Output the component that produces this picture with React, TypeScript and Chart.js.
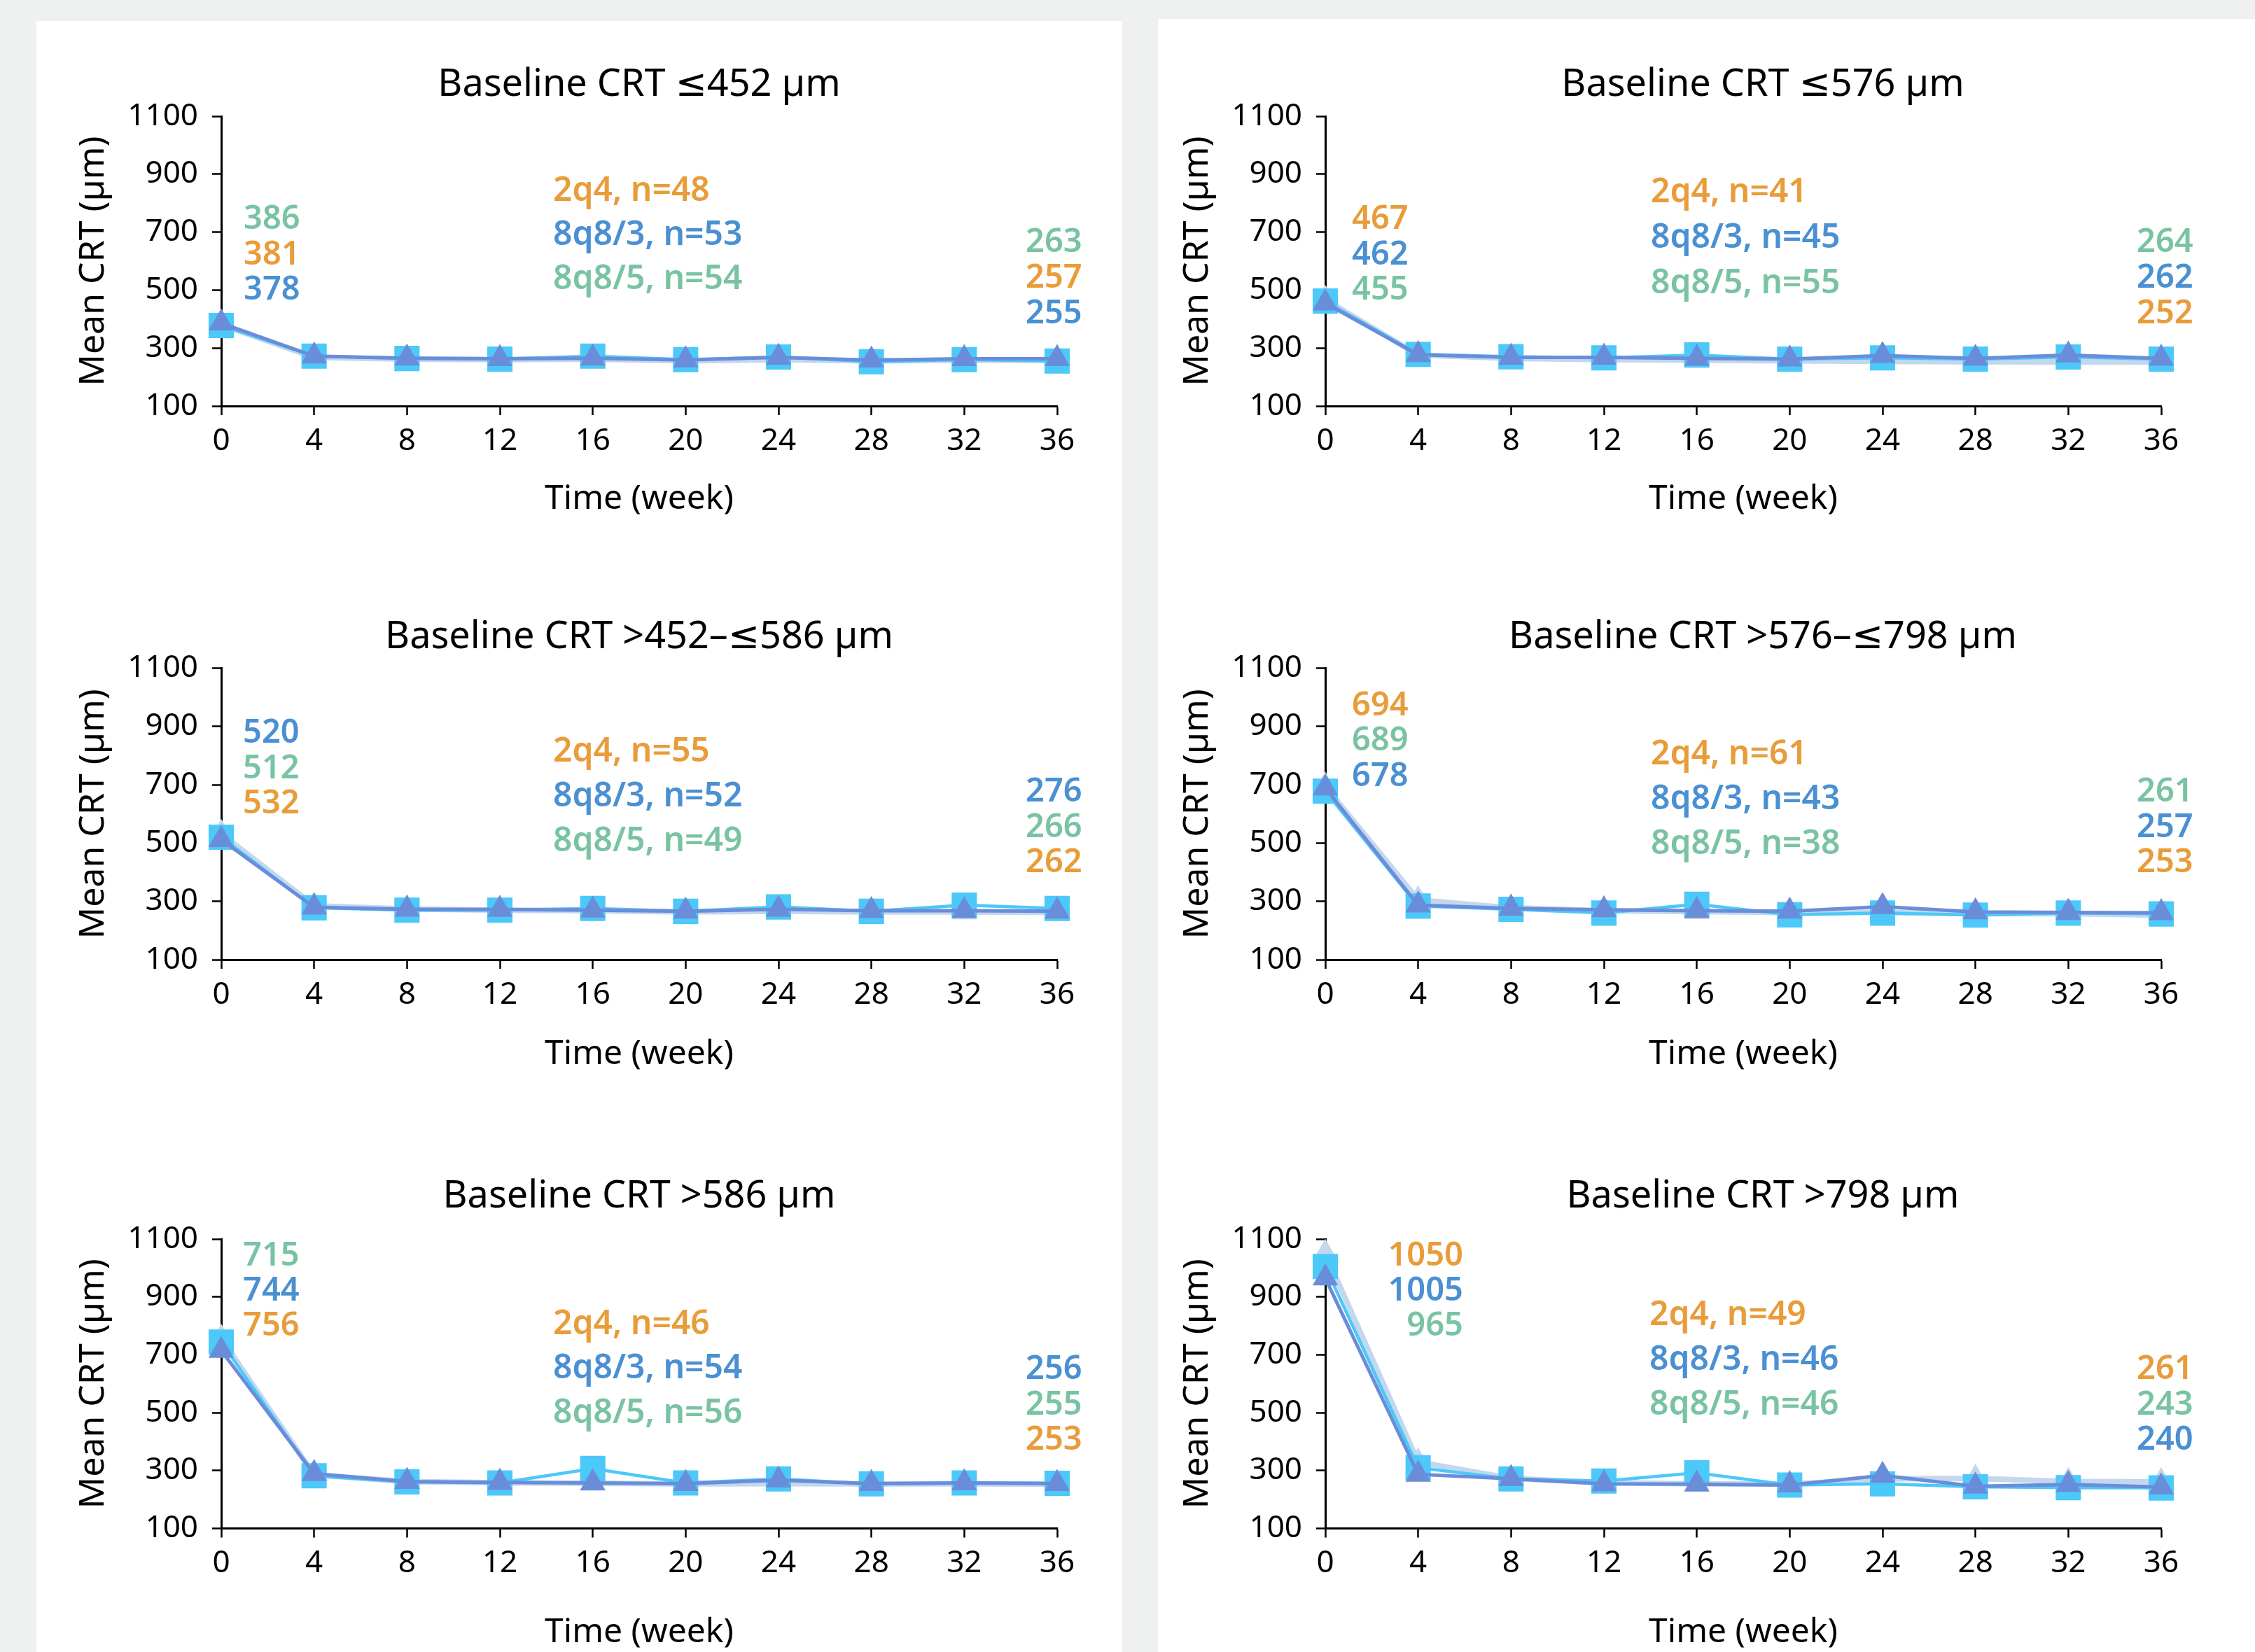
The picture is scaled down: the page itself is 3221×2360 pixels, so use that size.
import React, { useEffect, useRef } from "react";
import { Chart, registerables } from "chart.js";

Chart.register(...registerables);

// ---------- data ----------
const weeks = [0, 4, 8, 12, 16, 20, 24, 28, 32, 36];
const xTickValues = [0, 4, 8, 12, 16, 20, 24, 28, 32, 36];
const yTickValues = [100, 300, 500, 700, 900, 1100];

const panelTitles = [
  "Baseline CRT ≤452 µm",
  "Baseline CRT ≤576 µm",
  "Baseline CRT >452–≤586 µm",
  "Baseline CRT >576–≤798 µm",
  "Baseline CRT >586 µm",
  "Baseline CRT >798 µm",
];

const seriesNames = ["2q4", "8q8/3", "8q8/5"];
const n2q4 = [48, 41, 55, 61, 46, 49];
const n8q8_3 = [53, 45, 52, 43, 54, 46];
const n8q8_5 = [54, 55, 49, 38, 56, 46];

// panel 1: Baseline CRT ≤452
const p1_2q4 = [381, 268, 262, 260, 262, 256, 260, 256, 258, 257];
const p1_8q8_3 = [378, 272, 264, 262, 272, 260, 269, 253, 260, 255];
const p1_8q8_5 = [386, 272, 265, 263, 265, 259, 268, 258, 263, 263];
// panel 2: Baseline CRT ≤576
const p2_2q4 = [467, 276, 264, 260, 258, 256, 254, 253, 252, 252];
const p2_8q8_3 = [462, 278, 270, 266, 276, 262, 266, 262, 269, 262];
const p2_8q8_5 = [455, 277, 268, 268, 264, 262, 274, 264, 276, 264];
// panel 3: Baseline CRT >452–≤586
const p3_2q4 = [532, 285, 274, 270, 268, 264, 266, 264, 264, 262];
const p3_8q8_3 = [520, 278, 270, 270, 276, 266, 281, 266, 287, 276];
const p3_8q8_5 = [512, 280, 273, 272, 270, 266, 273, 268, 268, 266];
// panel 4: Baseline CRT >576–≤798
const p4_2q4 = [694, 305, 278, 268, 265, 262, 262, 258, 258, 253];
const p4_8q8_3 = [678, 284, 273, 260, 290, 254, 260, 253, 260, 257];
const p4_8q8_5 = [689, 287, 276, 271, 268, 266, 282, 264, 262, 261];
// panel 5: Baseline CRT >586
const p5_2q4 = [756, 285, 262, 258, 256, 254, 255, 254, 254, 253];
const p5_8q8_3 = [744, 282, 261, 257, 307, 257, 271, 254, 257, 256];
const p5_8q8_5 = [715, 289, 262, 259, 257, 255, 267, 255, 257, 255];
// panel 6: Baseline CRT >798
const p6_2q4 = [1050, 329, 273, 258, 254, 253, 271, 273, 262, 261];
const p6_8q8_3 = [1005, 310, 271, 264, 292, 250, 254, 244, 241, 240];
const p6_8q8_5 = [965, 287, 272, 254, 253, 250, 283, 246, 252, 243];

const panelSeries = [
  [p1_2q4, p1_8q8_3, p1_8q8_5],
  [p2_2q4, p2_8q8_3, p2_8q8_5],
  [p3_2q4, p3_8q8_3, p3_8q8_5],
  [p4_2q4, p4_8q8_3, p4_8q8_5],
  [p5_2q4, p5_8q8_3, p5_8q8_5],
  [p6_2q4, p6_8q8_3, p6_8q8_5],
];

// order (top to bottom) of the value labels: series index 0=2q4, 1=8q8/3, 2=8q8/5
const baselineLabelOrder = [
  [2, 0, 1],
  [0, 1, 2],
  [1, 2, 0],
  [0, 2, 1],
  [2, 1, 0],
  [0, 1, 2],
];
const week36LabelOrder = [
  [2, 0, 1],
  [2, 1, 0],
  [1, 2, 0],
  [2, 1, 0],
  [1, 2, 0],
  [0, 2, 1],
];

// ---------- styles / layout ----------
const FONT = "'Noto Sans', 'DejaVu Sans', sans-serif";
const PAGE_BG = "#eff1f0";
const labelColors = ["#e89c3a", "#4a90d2", "#79c3a3"]; // 2q4, 8q8/3, 8q8/5
const lineStyles = [
  { color: "#c3d7ee", width: 8, point: "triangle", radius: 21 }, // 2q4
  { color: "#4cc8f9", width: 4.5, point: "rect", radius: 25.5 }, // 8q8/3
  { color: "#6a8dda", width: 5, point: "triangle", radius: 21 }, // 8q8/5
];

// spacer = width of an invisible right axis, so the title centres on the wanted x
const cols = [
  { left: 52, width: 1722, spacer: 264 },
  { left: 1629, width: 1778, spacer: 320 },
];
const rows = [
  { top: 89, height: 653, titlePadBottom: 12.2, xScaleHeight: 162 },
  { top: 878, height: 657, titlePadBottom: 11.7, xScaleHeight: 164 },
  { top: 1677, height: 684, titlePadBottom: 28.2, xScaleHeight: 177.5 },
];

// text block placement relative to chart area (left, top)
const labelLayout = [
  { n: [474, 107, 63], b: [32, 148, 50.5, "left"], e: [1149, 181, 50.7] },
  { n: [465, 109, 65], b: [38, 148, 50.5, "left"], e: [1159, 181, 50.7] },
  { n: [474, 119.5, 64], b: [31, 93.5, 50.5, "left"], e: [1149, 177.5, 50.5] },
  { n: [465, 123.5, 64], b: [38, 54, 50.5, "left"], e: [1159, 177.5, 50.5] },
  { n: [474, 122, 63.5], b: [31, 25, 50, "left"], e: [1149, 187, 50.5] },
  { n: [463, 109, 64], b: [197, 25, 50, "right"], e: [1159, 187, 50.5] },
];

const labelPlugin = {
  id: "crtLabels",
  afterDatasetsDraw(chart: any, _args: any, opts: any) {
    const { ctx, chartArea } = chart;
    ctx.save();
    ctx.textBaseline = "middle";
    for (const g of opts.groups || []) {
      ctx.font = `${g.weight} ${g.size}px ${FONT}`;
      ctx.textAlign = g.align;
      g.lines.forEach((ln: any, i: number) => {
        ctx.fillStyle = ln.color;
        ctx.fillText(ln.text, chartArea.left + g.dx, chartArea.top + g.dy + i * g.step);
      });
    }
    ctx.restore();
  },
};

function buildConfig(idx: number): any {
  const col = cols[idx % 2];
  const row = rows[Math.floor(idx / 2)];
  const series = panelSeries[idx];
  const lay = labelLayout[idx];
  const ns = [n2q4[idx], n8q8_3[idx], n8q8_5[idx]];

  // draw order: dataset 0 drawn on top
  const drawOrder = [2, 1, 0];
  const datasets = drawOrder.map((s) => ({
    label: seriesNames[s],
    data: weeks.map((w, i) => ({ x: w, y: series[s][i] })),
    xAxisID: "x",
    yAxisID: "y",
    borderColor: lineStyles[s].color,
    backgroundColor: lineStyles[s].color,
    borderWidth: lineStyles[s].width,
    pointStyle: lineStyles[s].point,
    pointRadius: lineStyles[s].radius,
    pointHoverRadius: lineStyles[s].radius,
    pointBackgroundColor: lineStyles[s].color,
    pointBorderWidth: 0,
    tension: 0,
    clip: false,
  }));

  const groups = [
    {
      dx: lay.n[0], dy: lay.n[1], step: lay.n[2], align: "left", size: 48, weight: 600,
      lines: [0, 1, 2].map((s) => ({ text: `${seriesNames[s]}, n=${ns[s]}`, color: labelColors[s] })),
    },
    {
      dx: lay.b[0], dy: lay.b[1], step: lay.b[2], align: lay.b[3], size: 47, weight: 600,
      lines: baselineLabelOrder[idx].map((s) => ({ text: String(series[s][0]), color: labelColors[s] })),
    },
    {
      dx: lay.e[0], dy: lay.e[1], step: lay.e[2], align: "left", size: 47, weight: 600,
      lines: week36LabelOrder[idx].map((s) => ({ text: String(series[s][weeks.length - 1]), color: labelColors[s] })),
    },
  ];

  const grid = {
    display: true,
    drawOnChartArea: false,
    drawTicks: true,
    tickLength: 13,
    tickWidth: 2.5,
    tickColor: "#000",
    color: "#000",
  };
  const border = { display: true, color: "#000", width: 3 };

  return {
    type: "line",
    data: { datasets },
    plugins: [labelPlugin],
    options: {
      responsive: false,
      animation: false,
      devicePixelRatio: 1,
      events: [],
      layout: { padding: 0 },
      plugins: {
        legend: { display: false },
        tooltip: { enabled: false },
        title: {
          display: true,
          text: panelTitles[idx],
          color: "#000",
          font: { family: FONT, size: 54, weight: "normal", lineHeight: 1.2 },
          padding: { top: 0, bottom: row.titlePadBottom },
        },
        crtLabels: { groups },
      },
      scales: {
        x: {
          type: "linear",
          position: "bottom",
          min: 0,
          max: 36,
          afterBuildTicks: (scale: any) => {
            scale.ticks = xTickValues.map((v) => ({ value: v }));
          },
          afterFit: (scale: any) => {
            scale.height = row.xScaleHeight;
          },
          ticks: {
            color: "#000",
            font: { family: FONT, size: 44, lineHeight: 1.2 },
            padding: 11,
            maxRotation: 0,
            autoSkip: false,
            callback: (v: any) => String(v),
          },
          grid,
          border,
          title: {
            display: true,
            text: "Time (week)",
            color: "#000",
            font: { family: FONT, size: 48, lineHeight: 1.2 },
            padding: { top: 0, bottom: 0 },
          },
        },
        y: {
          type: "linear",
          position: "left",
          min: 100,
          max: 1100,
          afterBuildTicks: (scale: any) => {
            scale.ticks = yTickValues.map((v) => ({ value: v }));
          },
          afterFit: (scale: any) => {
            scale.width = 264;
          },
          ticks: {
            color: "#000",
            font: { family: FONT, size: 44, lineHeight: 1.2 },
            padding: 20,
            autoSkip: false,
            callback: (v: any) => String(v),
          },
          grid,
          border,
          title: {
            display: true,
            text: "Mean CRT (µm)",
            color: "#000",
            font: { family: FONT, size: 50, lineHeight: 1.2 },
            padding: { top: 52, bottom: 0 },
          },
        },
        spacer: {
          type: "linear",
          position: "right",
          display: true,
          min: 0,
          max: 1,
          grid: { display: false, drawTicks: false },
          border: { display: false },
          ticks: { display: false },
          title: { display: false },
          afterFit: (scale: any) => {
            scale.width = col.spacer;
          },
        },
      },
    },
  };
}

function ChartPanel({ idx }: { idx: number }) {
  const ref = useRef<HTMLCanvasElement | null>(null);
  const col = cols[idx % 2];
  const row = rows[Math.floor(idx / 2)];
  useEffect(() => {
    if (!ref.current) return;
    const chart = new Chart(ref.current, buildConfig(idx));
    return () => chart.destroy();
  }, [idx]);
  return (
    <canvas
      ref={ref}
      width={col.width}
      height={row.height}
      style={{
        position: "absolute",
        left: col.left,
        top: row.top,
        width: col.width,
        height: row.height,
        display: "block",
      }}
    />
  );
}

export default function App() {
  return (
    <div
      style={{
        position: "absolute",
        left: 0,
        top: 0,
        width: 3221,
        height: 2360,
        overflow: "hidden",
        background: PAGE_BG,
      }}
    >
      <div style={{ position: "absolute", left: 52, top: 30, width: 1551, height: 2330, background: "#ffffff" }} />
      <div style={{ position: "absolute", left: 1654, top: 27, width: 1567, height: 2333, background: "#ffffff" }} />
      {[0, 1, 2, 3, 4, 5].map((i) => (
        <ChartPanel key={i} idx={i} />
      ))}
    </div>
  );
}
